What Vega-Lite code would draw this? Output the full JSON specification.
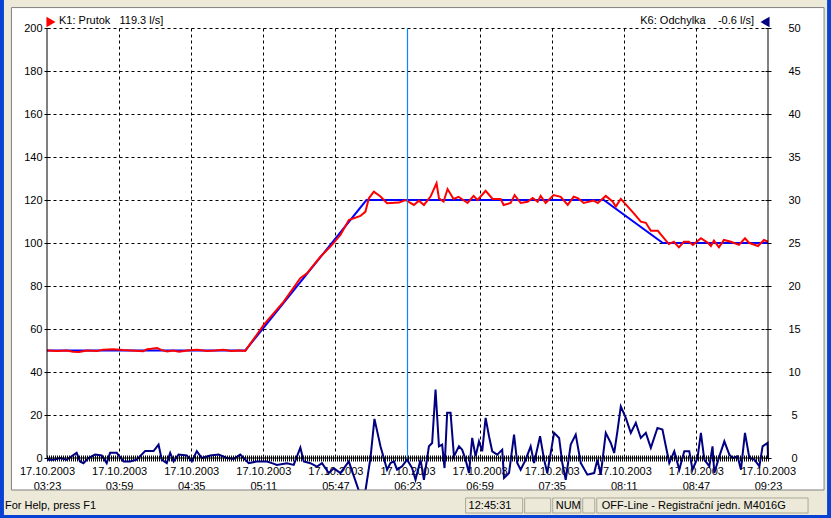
{
  "$schema": "https://vega.github.io/schema/vega-lite/v6.json",
  "width": 721,
  "height": 430,
  "autosize": {"type": "none"},
  "padding": {"left": 47, "top": 28, "right": 63, "bottom": 60},
  "background": "white",
  "config": {"view": {"stroke": null}, "font": "Liberation Sans", "text": {"font": "Liberation Sans", "fontSize": 11, "color": "black"}},
  "datasets": {
    "one": [{}],
    "red": [
      {"t": "2003-10-17T03:23:00", "v": 50}, {"t": "2003-10-17T03:28:00", "v": 49.8}, {"t": "2003-10-17T03:33:00", "v": 50},
      {"t": "2003-10-17T03:36:00", "v": 49.4}, {"t": "2003-10-17T03:39:00", "v": 49.3}, {"t": "2003-10-17T03:43:00", "v": 50},
      {"t": "2003-10-17T03:48:00", "v": 49.8}, {"t": "2003-10-17T03:51:00", "v": 50.4}, {"t": "2003-10-17T03:56:00", "v": 50.6},
      {"t": "2003-10-17T04:01:00", "v": 50.2}, {"t": "2003-10-17T04:05:00", "v": 50}, {"t": "2003-10-17T04:11:00", "v": 49.7},
      {"t": "2003-10-17T04:13:00", "v": 50.6}, {"t": "2003-10-17T04:15:00", "v": 50.8}, {"t": "2003-10-17T04:18:00", "v": 51.2},
      {"t": "2003-10-17T04:20:00", "v": 50.3}, {"t": "2003-10-17T04:23:00", "v": 49.5}, {"t": "2003-10-17T04:26:00", "v": 50},
      {"t": "2003-10-17T04:29:00", "v": 49.4}, {"t": "2003-10-17T04:33:00", "v": 50}, {"t": "2003-10-17T04:38:00", "v": 50.3},
      {"t": "2003-10-17T04:43:00", "v": 49.8}, {"t": "2003-10-17T04:47:00", "v": 50}, {"t": "2003-10-17T04:51:00", "v": 50.3},
      {"t": "2003-10-17T04:55:00", "v": 49.8}, {"t": "2003-10-17T04:59:00", "v": 50}, {"t": "2003-10-17T05:02:00", "v": 49.8},
      {"t": "2003-10-17T05:11:12", "v": 61.9}, {"t": "2003-10-17T05:21:12", "v": 72.7}, {"t": "2003-10-17T05:29:30", "v": 83.6},
      {"t": "2003-10-17T05:32:48", "v": 85.9}, {"t": "2003-10-17T05:39:30", "v": 93.6}, {"t": "2003-10-17T05:44:30", "v": 98.3},
      {"t": "2003-10-17T05:49:30", "v": 103.7}, {"t": "2003-10-17T05:53:42", "v": 110.7}, {"t": "2003-10-17T05:59:30", "v": 112.6},
      {"t": "2003-10-17T06:02:00", "v": 114.6}, {"t": "2003-10-17T06:03:42", "v": 120.8}, {"t": "2003-10-17T06:06:12", "v": 123.9},
      {"t": "2003-10-17T06:09:30", "v": 121.6}, {"t": "2003-10-17T06:12:48", "v": 118.5}, {"t": "2003-10-17T06:18:42", "v": 118.8},
      {"t": "2003-10-17T06:22:00", "v": 120}, {"t": "2003-10-17T06:26:12", "v": 117.7}, {"t": "2003-10-17T06:28:42", "v": 119.7},
      {"t": "2003-10-17T06:31:12", "v": 117.7}, {"t": "2003-10-17T06:34:30", "v": 121.6}, {"t": "2003-10-17T06:37:30", "v": 127.8},
      {"t": "2003-10-17T06:38:42", "v": 120.8}, {"t": "2003-10-17T06:41:00", "v": 119.2}, {"t": "2003-10-17T06:43:00", "v": 125.1},
      {"t": "2003-10-17T06:46:00", "v": 120.5}, {"t": "2003-10-17T06:48:30", "v": 121.5}, {"t": "2003-10-17T06:53:00", "v": 118.6},
      {"t": "2003-10-17T06:56:00", "v": 121.9}, {"t": "2003-10-17T06:58:00", "v": 120}, {"t": "2003-10-17T07:02:00", "v": 124.3},
      {"t": "2003-10-17T07:05:30", "v": 120.5}, {"t": "2003-10-17T07:09:30", "v": 120.5}, {"t": "2003-10-17T07:11:00", "v": 117.7},
      {"t": "2003-10-17T07:14:30", "v": 118.6}, {"t": "2003-10-17T07:16:30", "v": 122.3}, {"t": "2003-10-17T07:19:30", "v": 118.6},
      {"t": "2003-10-17T07:23:00", "v": 119.2}, {"t": "2003-10-17T07:25:30", "v": 120.9}, {"t": "2003-10-17T07:28:00", "v": 119.2},
      {"t": "2003-10-17T07:29:30", "v": 121.9}, {"t": "2003-10-17T07:32:00", "v": 118.6}, {"t": "2003-10-17T07:36:00", "v": 122.3},
      {"t": "2003-10-17T07:39:30", "v": 121.5}, {"t": "2003-10-17T07:43:00", "v": 117.7}, {"t": "2003-10-17T07:46:00", "v": 121.5},
      {"t": "2003-10-17T07:48:00", "v": 120.9}, {"t": "2003-10-17T07:51:00", "v": 118.6}, {"t": "2003-10-17T07:56:00", "v": 119.7},
      {"t": "2003-10-17T07:58:00", "v": 118.6}, {"t": "2003-10-17T08:02:00", "v": 121.9}, {"t": "2003-10-17T08:05:30", "v": 119.2},
      {"t": "2003-10-17T08:07:00", "v": 116.9}, {"t": "2003-10-17T08:09:30", "v": 120.5}, {"t": "2003-10-17T08:13:00", "v": 116.9},
      {"t": "2003-10-17T08:16:00", "v": 113.8}, {"t": "2003-10-17T08:19:30", "v": 109.9}, {"t": "2003-10-17T08:22:00", "v": 109.4},
      {"t": "2003-10-17T08:24:30", "v": 105.7}, {"t": "2003-10-17T08:28:00", "v": 105.7}, {"t": "2003-10-17T08:30:30", "v": 102.9},
      {"t": "2003-10-17T08:33:30", "v": 99.5}, {"t": "2003-10-17T08:36:00", "v": 100.6}, {"t": "2003-10-17T08:38:30", "v": 98},
      {"t": "2003-10-17T08:41:00", "v": 100.6}, {"t": "2003-10-17T08:43:30", "v": 100.6}, {"t": "2003-10-17T08:45:30", "v": 99.1},
      {"t": "2003-10-17T08:49:30", "v": 102.2}, {"t": "2003-10-17T08:53:00", "v": 100.1}, {"t": "2003-10-17T08:54:30", "v": 98.6},
      {"t": "2003-10-17T08:56:00", "v": 101.1}, {"t": "2003-10-17T08:58:30", "v": 98}, {"t": "2003-10-17T09:01:00", "v": 101.4},
      {"t": "2003-10-17T09:04:30", "v": 100.6}, {"t": "2003-10-17T09:08:30", "v": 99.1}, {"t": "2003-10-17T09:11:30", "v": 102.2},
      {"t": "2003-10-17T09:13:30", "v": 100.1}, {"t": "2003-10-17T09:18:00", "v": 98.6}, {"t": "2003-10-17T09:21:00", "v": 101.4},
      {"t": "2003-10-17T09:23:00", "v": 100.6}
    ],
    "blue": [
      {"t": "2003-10-17T03:23:00", "v": 50}, {"t": "2003-10-17T05:02:00", "v": 50}, {"t": "2003-10-17T06:02:30", "v": 120},
      {"t": "2003-10-17T08:01:00", "v": 120}, {"t": "2003-10-17T08:30:30", "v": 100}, {"t": "2003-10-17T09:23:00", "v": 100}
    ],
    "navy": [
      {"t": "2003-10-17T03:23:00", "v": -0.2}, {"t": "2003-10-17T03:26:12", "v": -0.2}, {"t": "2003-10-17T03:29:30", "v": 0},
      {"t": "2003-10-17T03:32:48", "v": -0.2}, {"t": "2003-10-17T03:35:18", "v": 0.2}, {"t": "2003-10-17T03:37:48", "v": 0.6},
      {"t": "2003-10-17T03:39:30", "v": -0.4}, {"t": "2003-10-17T03:41:12", "v": -0.6}, {"t": "2003-10-17T03:43:42", "v": 0},
      {"t": "2003-10-17T03:47:00", "v": 0.4}, {"t": "2003-10-17T03:50:18", "v": 0.3}, {"t": "2003-10-17T03:52:48", "v": -0.6},
      {"t": "2003-10-17T03:54:30", "v": 0.6}, {"t": "2003-10-17T03:57:48", "v": 0.6}, {"t": "2003-10-17T04:01:12", "v": -0.4},
      {"t": "2003-10-17T04:04:30", "v": -0.4}, {"t": "2003-10-17T04:07:48", "v": -0.2}, {"t": "2003-10-17T04:12:00", "v": 0.8},
      {"t": "2003-10-17T04:16:12", "v": 0.8}, {"t": "2003-10-17T04:18:42", "v": 1.55}, {"t": "2003-10-17T04:20:18", "v": -0.2},
      {"t": "2003-10-17T04:22:48", "v": -0.6}, {"t": "2003-10-17T04:24:30", "v": 0.6}, {"t": "2003-10-17T04:26:12", "v": -0.4},
      {"t": "2003-10-17T04:28:42", "v": 0.4}, {"t": "2003-10-17T04:32:48", "v": 0.3}, {"t": "2003-10-17T04:35:18", "v": -0.4},
      {"t": "2003-10-17T04:37:48", "v": 0.8}, {"t": "2003-10-17T04:40:18", "v": 0}, {"t": "2003-10-17T04:44:30", "v": 0.3},
      {"t": "2003-10-17T04:48:42", "v": 0.4}, {"t": "2003-10-17T04:52:48", "v": 0}, {"t": "2003-10-17T04:56:12", "v": -0.1},
      {"t": "2003-10-17T04:59:30", "v": 0.4}, {"t": "2003-10-17T05:03:42", "v": -0.6}, {"t": "2003-10-17T05:07:48", "v": -0.4},
      {"t": "2003-10-17T05:12:48", "v": -0.4}, {"t": "2003-10-17T05:15:18", "v": -0.6}, {"t": "2003-10-17T05:17:48", "v": -0.8},
      {"t": "2003-10-17T05:22:48", "v": -0.6}, {"t": "2003-10-17T05:26:12", "v": -0.8}, {"t": "2003-10-17T05:29:30", "v": 1.2},
      {"t": "2003-10-17T05:31:12", "v": -0.4}, {"t": "2003-10-17T05:34:30", "v": -0.6}, {"t": "2003-10-17T05:37:48", "v": -1.0},
      {"t": "2003-10-17T05:40:18", "v": -0.6}, {"t": "2003-10-17T05:43:42", "v": -1.75}, {"t": "2003-10-17T05:46:12", "v": -1.2},
      {"t": "2003-10-17T05:49:30", "v": -1.75}, {"t": "2003-10-17T05:53:42", "v": -0.4}, {"t": "2003-10-17T05:56:12", "v": -2.1},
      {"t": "2003-10-17T05:58:42", "v": -3.8}, {"t": "2003-10-17T06:02:00", "v": -3.8}, {"t": "2003-10-17T06:04:30", "v": 0},
      {"t": "2003-10-17T06:06:30", "v": 4.55}, {"t": "2003-10-17T06:09:30", "v": 1.36}, {"t": "2003-10-17T06:12:48", "v": -1.36},
      {"t": "2003-10-17T06:14:30", "v": -0.58}, {"t": "2003-10-17T06:16:12", "v": -0.39}, {"t": "2003-10-17T06:17:48", "v": -1.36},
      {"t": "2003-10-17T06:20:18", "v": -0.97}, {"t": "2003-10-17T06:22:48", "v": -0.19}, {"t": "2003-10-17T06:25:18", "v": -1.17},
      {"t": "2003-10-17T06:27:00", "v": -2.53}, {"t": "2003-10-17T06:29:30", "v": -0.19}, {"t": "2003-10-17T06:31:12", "v": -2.53},
      {"t": "2003-10-17T06:33:42", "v": 1.36}, {"t": "2003-10-17T06:35:18", "v": 1.75}, {"t": "2003-10-17T06:37:00", "v": 7.97},
      {"t": "2003-10-17T06:38:42", "v": 1.36}, {"t": "2003-10-17T06:40:18", "v": 1.55}, {"t": "2003-10-17T06:41:30", "v": -1.17},
      {"t": "2003-10-17T06:42:48", "v": 5.25}, {"t": "2003-10-17T06:44:30", "v": 5.25}, {"t": "2003-10-17T06:46:12", "v": 0.19},
      {"t": "2003-10-17T06:48:42", "v": 1.36}, {"t": "2003-10-17T06:50:18", "v": 0.97}, {"t": "2003-10-17T06:52:00", "v": -0.19},
      {"t": "2003-10-17T06:53:42", "v": -1.75}, {"t": "2003-10-17T06:55:18", "v": 2.33}, {"t": "2003-10-17T06:57:00", "v": 0.19},
      {"t": "2003-10-17T06:58:42", "v": 1.94}, {"t": "2003-10-17T07:00:18", "v": 0.78}, {"t": "2003-10-17T07:02:00", "v": 4.66},
      {"t": "2003-10-17T07:03:42", "v": 2.53}, {"t": "2003-10-17T07:05:18", "v": 0.78}, {"t": "2003-10-17T07:07:48", "v": 0.39},
      {"t": "2003-10-17T07:10:18", "v": 0.97}, {"t": "2003-10-17T07:11:12", "v": -2.33}, {"t": "2003-10-17T07:13:42", "v": -1.75},
      {"t": "2003-10-17T07:16:12", "v": 2.72}, {"t": "2003-10-17T07:17:48", "v": -0.58}, {"t": "2003-10-17T07:19:30", "v": -1.36},
      {"t": "2003-10-17T07:22:00", "v": -0.19}, {"t": "2003-10-17T07:24:30", "v": 1.36}, {"t": "2003-10-17T07:26:12", "v": -0.58},
      {"t": "2003-10-17T07:29:12", "v": 2.53}, {"t": "2003-10-17T07:31:12", "v": -0.19}, {"t": "2003-10-17T07:32:48", "v": -1.75},
      {"t": "2003-10-17T07:36:12", "v": 2.92}, {"t": "2003-10-17T07:38:42", "v": 2.33}, {"t": "2003-10-17T07:40:18", "v": -0.58},
      {"t": "2003-10-17T07:42:00", "v": -2.53}, {"t": "2003-10-17T07:44:30", "v": 1.55}, {"t": "2003-10-17T07:47:00", "v": 2.72},
      {"t": "2003-10-17T07:49:30", "v": -0.58}, {"t": "2003-10-17T07:52:48", "v": -1.94}, {"t": "2003-10-17T07:56:12", "v": -1.75},
      {"t": "2003-10-17T07:57:48", "v": -0.19}, {"t": "2003-10-17T07:59:30", "v": -1.94}, {"t": "2003-10-17T08:02:00", "v": 2.92},
      {"t": "2003-10-17T08:04:30", "v": 1.75}, {"t": "2003-10-17T08:06:12", "v": 0.58}, {"t": "2003-10-17T08:07:48", "v": 3.1},
      {"t": "2003-10-17T08:09:30", "v": 6.0}, {"t": "2003-10-17T08:12:00", "v": 4.66}, {"t": "2003-10-17T08:14:30", "v": 2.92},
      {"t": "2003-10-17T08:17:00", "v": 4.08}, {"t": "2003-10-17T08:19:30", "v": 2.33}, {"t": "2003-10-17T08:22:00", "v": 2.92},
      {"t": "2003-10-17T08:24:30", "v": 1.17}, {"t": "2003-10-17T08:27:48", "v": 3.5}, {"t": "2003-10-17T08:30:18", "v": 3.3},
      {"t": "2003-10-17T08:32:00", "v": 1.36}, {"t": "2003-10-17T08:33:42", "v": -0.58}, {"t": "2003-10-17T08:36:12", "v": 0.78},
      {"t": "2003-10-17T08:38:42", "v": -1.36}, {"t": "2003-10-17T08:41:12", "v": 0.78}, {"t": "2003-10-17T08:43:42", "v": 0.78},
      {"t": "2003-10-17T08:45:18", "v": -1.36}, {"t": "2003-10-17T08:47:48", "v": 0}, {"t": "2003-10-17T08:49:30", "v": 2.92},
      {"t": "2003-10-17T08:51:12", "v": -0.19}, {"t": "2003-10-17T08:53:42", "v": -0.97}, {"t": "2003-10-17T08:55:18", "v": 1.36},
      {"t": "2003-10-17T08:56:12", "v": -1.75}, {"t": "2003-10-17T08:58:42", "v": 0.19}, {"t": "2003-10-17T09:01:12", "v": 1.94},
      {"t": "2003-10-17T09:03:42", "v": 0.39}, {"t": "2003-10-17T09:05:18", "v": 0}, {"t": "2003-10-17T09:07:48", "v": 0.19},
      {"t": "2003-10-17T09:09:30", "v": -1.36}, {"t": "2003-10-17T09:11:30", "v": 2.92}, {"t": "2003-10-17T09:13:42", "v": 0},
      {"t": "2003-10-17T09:16:12", "v": -0.19}, {"t": "2003-10-17T09:18:42", "v": -0.97}, {"t": "2003-10-17T09:20:18", "v": 1.36},
      {"t": "2003-10-17T09:22:48", "v": 1.75}, {"t": "2003-10-17T09:23:00", "v": 0}
    ]
  },
  "layer": [
    {
      "layer": [
        {
          "data": {"name": "navy"},
          "mark": {"type": "line", "color": "#000080", "strokeWidth": 2},
          "encoding": {
            "x": {"field": "t", "type": "temporal",
              "scale": {"domain": ["2003-10-17T03:23:00", "2003-10-17T09:23:00"]},
              "axis": {"title": null, "domain": false, "offset": -3, "tickSize": 6, "tickColor": "black", "tickWidth": 1,
                "tickCount": 360,
                "labelExpr": "round((datum.value - datetime(2003,9,17,3,23,0,0))/60000) % 36 == 0 ? [timeFormat(datum.value, '%d.%m.%Y'), timeFormat(datum.value, '%H:%M')] : ''",
                "labelOverlap": false, "labelFlush": false, "labelFontSize": 11, "labelFont": "Liberation Sans", "labelColor": "black",
                "labelBaseline": "top", "labelLineHeight": 15, "labelPadding": 4,
                "grid": true, "gridColor": "black", "gridDash": [3, 3],
                "gridOpacity": {"condition": {"test": "round((datum.value - datetime(2003,9,17,3,23,0,0))/60000) % 36 == 0 && datum.value > datetime(2003,9,17,3,24,0,0) && datum.value < datetime(2003,9,17,9,22,0,0) && abs(datum.value - datetime(2003,9,17,6,23,0,0)) > 1000", "value": 1}, "value": 0}}},
            "y": {"field": "v", "type": "quantitative", "scale": {"domain": [0, 50], "nice": false, "zero": false},
              "axis": {"title": null, "orient": "right", "values": [0, 5, 10, 15, 20, 25, 30, 35, 40, 45, 50], "domain": false, "offset": -3, "tickSize": 6, "tickColor": "black", "labelAlign": "center", "labelPadding": 23, "labelFontSize": 11, "labelFont": "Liberation Sans", "labelColor": "black", "grid": false}}
          }
        }
      ]
    },
    {
      "layer": [
        {
          "data": {"name": "blue"},
          "mark": {"type": "line", "color": "#0000FF", "strokeWidth": 2},
          "encoding": {
            "x": {"field": "t", "type": "temporal"},
            "y": {"field": "v", "type": "quantitative", "scale": {"domain": [0, 200], "nice": false, "zero": false},
              "axis": {"title": null, "orient": "left", "values": [0, 20, 40, 60, 80, 100, 120, 140, 160, 180, 200], "domain": false, "offset": -3, "tickSize": 6, "tickColor": "black", "labelFontSize": 11, "labelFont": "Liberation Sans", "labelColor": "black", "labelPadding": 2,
                "grid": true, "gridColor": "black", "gridDash": [3, 3],
                "gridOpacity": {"condition": {"test": "datum.value > 0", "value": 1}, "value": 0}}}
          }
        },
        {
          "data": {"name": "red"},
          "mark": {"type": "line", "color": "#FF0000", "strokeWidth": 2},
          "encoding": {
            "x": {"field": "t", "type": "temporal"},
            "y": {"field": "v", "type": "quantitative"}
          }
        },
        {
          "data": {"name": "one"},
          "mark": {"type": "rule", "strokeWidth": 1.2, "opacity": 1, "strokeOpacity": 1},
          "encoding": {
            "x": {"datum": {"year": 2003, "month": 10, "date": 17, "hours": 6, "minutes": 23}},
            "color": {"value": "#0A84FF"}
          }
        },
        {
          "data": {"name": "one"},
          "mark": {"type": "rule", "color": "black", "strokeWidth": 1},
          "encoding": {"x": {"datum": {"year": 2003, "month": 10, "date": 17, "hours": 3, "minutes": 23}}}
        },
        {
          "data": {"name": "one"},
          "mark": {"type": "rule", "color": "black", "strokeWidth": 1},
          "encoding": {"x": {"datum": {"year": 2003, "month": 10, "date": 17, "hours": 9, "minutes": 23}}}
        },
        {
          "data": {"name": "one"},
          "mark": {"type": "rule", "color": "black", "strokeWidth": 1},
          "encoding": {"y": {"datum": 0}}
        },
        {
          "data": {"name": "one"},
          "mark": {"type": "rect", "color": "#ECE9D8"},
          "encoding": {
            "x": {"datum": {"year": 2003, "month": 10, "date": 17, "hours": 2, "minutes": 50}},
            "x2": {"datum": {"year": 2003, "month": 10, "date": 17, "hours": 10, "minutes": 5}},
            "y": {"datum": 209.77}, "y2": {"datum": 225}
          }
        },
        {
          "data": {"name": "one"},
          "mark": {"type": "rect", "color": "#ECE9D8"},
          "encoding": {
            "x": {"datum": {"year": 2003, "month": 10, "date": 17, "hours": 2, "minutes": 50}},
            "x2": {"datum": {"year": 2003, "month": 10, "date": 17, "hours": 10, "minutes": 5}},
            "y": {"datum": -14.88}, "y2": {"datum": -40}
          }
        },
        {
          "data": {"name": "one"},
          "mark": {"type": "rect", "color": "#ECE9D8"},
          "encoding": {
            "x": {"datum": {"year": 2003, "month": 10, "date": 17, "hours": 2, "minutes": 50}},
            "x2": {"datum": {"year": 2003, "month": 10, "date": 17, "hours": 3, "minutes": 5}},
            "y": {"datum": 225}, "y2": {"datum": -40}
          }
        },
        {
          "data": {"name": "one"},
          "mark": {"type": "rect", "color": "#ECE9D8"},
          "encoding": {
            "x": {"datum": {"year": 2003, "month": 10, "date": 17, "hours": 9, "minutes": 51}},
            "x2": {"datum": {"year": 2003, "month": 10, "date": 17, "hours": 10, "minutes": 5}},
            "y": {"datum": 225}, "y2": {"datum": -40}
          }
        },
        {
          "data": {"name": "one"},
          "mark": {"type": "rect", "color": "#0842D4"},
          "encoding": {
            "x": {"datum": {"year": 2003, "month": 10, "date": 17, "hours": 2, "minutes": 50}},
            "x2": {"datum": {"year": 2003, "month": 10, "date": 17, "hours": 3, "minutes": 1, "seconds": 30}},
            "y": {"datum": 225}, "y2": {"datum": -40}
          }
        },
        {
          "data": {"name": "one"},
          "mark": {"type": "rect", "color": "#0842D4"},
          "encoding": {
            "x": {"datum": {"year": 2003, "month": 10, "date": 17, "hours": 9, "minutes": 52, "seconds": 30}},
            "x2": {"datum": {"year": 2003, "month": 10, "date": 17, "hours": 10, "minutes": 5}},
            "y": {"datum": 225}, "y2": {"datum": -40}
          }
        },
        {
          "data": {"name": "one"},
          "mark": {"type": "rect", "color": "#0842D4"},
          "encoding": {
            "x": {"datum": {"year": 2003, "month": 10, "date": 17, "hours": 2, "minutes": 50}},
            "x2": {"datum": {"year": 2003, "month": 10, "date": 17, "hours": 10, "minutes": 5}},
            "y": {"datum": -26.51}, "y2": {"datum": -40}
          }
        },
        {
          "data": {"name": "one"},
          "mark": {"type": "rect", "fill": "white", "fillOpacity": 0, "stroke": "#808080", "strokeWidth": 1},
          "encoding": {
            "x": {"datum": {"year": 2003, "month": 10, "date": 17, "hours": 3, "minutes": 5, "seconds": 15}},
            "x2": {"datum": {"year": 2003, "month": 10, "date": 17, "hours": 9, "minutes": 51}},
            "y": {"datum": 209.5}, "y2": {"datum": -14.88}
          }
        },
        {
          "data": {"name": "one"},
          "mark": {"type": "rect", "fill": "white", "fillOpacity": 0, "stroke": "#ACA899", "strokeWidth": 1},
          "encoding": {
            "x": {"datum": {"year": 2003, "month": 10, "date": 17, "hours": 6, "minutes": 52}},
            "x2": {"datum": {"year": 2003, "month": 10, "date": 17, "hours": 7, "minutes": 20, "seconds": 30}},
            "y": {"datum": -18.6}, "y2": {"datum": -25.6}
          }
        },
        {
          "data": {"name": "one"},
          "mark": {"type": "rect", "fill": "white", "fillOpacity": 0, "stroke": "#ACA899", "strokeWidth": 1},
          "encoding": {
            "x": {"datum": {"year": 2003, "month": 10, "date": 17, "hours": 7, "minutes": 21, "seconds": 30}},
            "x2": {"datum": {"year": 2003, "month": 10, "date": 17, "hours": 7, "minutes": 34, "seconds": 30}},
            "y": {"datum": -18.6}, "y2": {"datum": -25.6}
          }
        },
        {
          "data": {"name": "one"},
          "mark": {"type": "rect", "fill": "white", "fillOpacity": 0, "stroke": "#ACA899", "strokeWidth": 1},
          "encoding": {
            "x": {"datum": {"year": 2003, "month": 10, "date": 17, "hours": 7, "minutes": 35, "seconds": 30}},
            "x2": {"datum": {"year": 2003, "month": 10, "date": 17, "hours": 7, "minutes": 49, "seconds": 30}},
            "y": {"datum": -18.6}, "y2": {"datum": -25.6}
          }
        },
        {
          "data": {"name": "one"},
          "mark": {"type": "rect", "fill": "white", "fillOpacity": 0, "stroke": "#ACA899", "strokeWidth": 1},
          "encoding": {
            "x": {"datum": {"year": 2003, "month": 10, "date": 17, "hours": 7, "minutes": 50, "seconds": 30}},
            "x2": {"datum": {"year": 2003, "month": 10, "date": 17, "hours": 7, "minutes": 56, "seconds": 30}},
            "y": {"datum": -18.6}, "y2": {"datum": -25.6}
          }
        },
        {
          "data": {"name": "one"},
          "mark": {"type": "rect", "fill": "white", "fillOpacity": 0, "stroke": "#ACA899", "strokeWidth": 1},
          "encoding": {
            "x": {"datum": {"year": 2003, "month": 10, "date": 17, "hours": 7, "minutes": 57, "seconds": 30}},
            "x2": {"datum": {"year": 2003, "month": 10, "date": 17, "hours": 9, "minutes": 43}},
            "y": {"datum": -18.6}, "y2": {"datum": -25.6}
          }
        },
        {
          "data": {"name": "one"},
          "mark": {"type": "text", "text": "For Help, press F1", "align": "left", "baseline": "middle"},
          "encoding": {
            "x": {"datum": {"year": 2003, "month": 10, "date": 17, "hours": 3, "minutes": 2}},
            "y": {"datum": -22.3}
          }
        },
        {
          "data": {"name": "one"},
          "mark": {"type": "text", "text": "12:45:31", "align": "left", "baseline": "middle"},
          "encoding": {
            "x": {"datum": {"year": 2003, "month": 10, "date": 17, "hours": 6, "minutes": 53, "seconds": 30}},
            "y": {"datum": -22.3}
          }
        },
        {
          "data": {"name": "one"},
          "mark": {"type": "text", "text": "NUM", "align": "left", "baseline": "middle"},
          "encoding": {
            "x": {"datum": {"year": 2003, "month": 10, "date": 17, "hours": 7, "minutes": 37}},
            "y": {"datum": -22.3}
          }
        },
        {
          "data": {"name": "one"},
          "mark": {"type": "text", "text": "OFF-Line - Registrační jedn. M4016G", "align": "left", "baseline": "middle"},
          "encoding": {
            "x": {"datum": {"year": 2003, "month": 10, "date": 17, "hours": 8, "minutes": 0}},
            "y": {"datum": -22.3}
          }
        },
        {
          "data": {"name": "one"},
          "mark": {"type": "text", "text": "K1: Prutok\u00a0\u00a0\u00a0119.3 l/s]", "align": "left", "baseline": "middle", "dx": 12, "dy": -7},
          "encoding": {
            "x": {"datum": {"year": 2003, "month": 10, "date": 17, "hours": 3, "minutes": 23}},
            "y": {"datum": 200}
          }
        },
        {
          "data": {"name": "one"},
          "mark": {"type": "text", "text": "K6: Odchylka\u00a0\u00a0\u00a0\u00a0-0.6 l/s]", "align": "right", "baseline": "middle", "dx": -14, "dy": -7},
          "encoding": {
            "x": {"datum": {"year": 2003, "month": 10, "date": 17, "hours": 9, "minutes": 23}},
            "y": {"datum": 200}
          }
        },
        {
          "data": {"name": "one"},
          "mark": {"type": "point", "shape": "triangle-right", "filled": true, "color": "#FF0000", "size": 110, "opacity": 1, "xOffset": 4, "yOffset": -6},
          "encoding": {
            "x": {"datum": {"year": 2003, "month": 10, "date": 17, "hours": 3, "minutes": 23}},
            "y": {"datum": 200}
          }
        },
        {
          "data": {"name": "one"},
          "mark": {"type": "point", "shape": "triangle-left", "filled": true, "color": "#000080", "size": 110, "opacity": 1, "xOffset": -3, "yOffset": -6},
          "encoding": {
            "x": {"datum": {"year": 2003, "month": 10, "date": 17, "hours": 9, "minutes": 23}},
            "y": {"datum": 200}
          }
        }
      ]
    }
  ],
  "resolve": {"scale": {"y": "independent"}}
}
